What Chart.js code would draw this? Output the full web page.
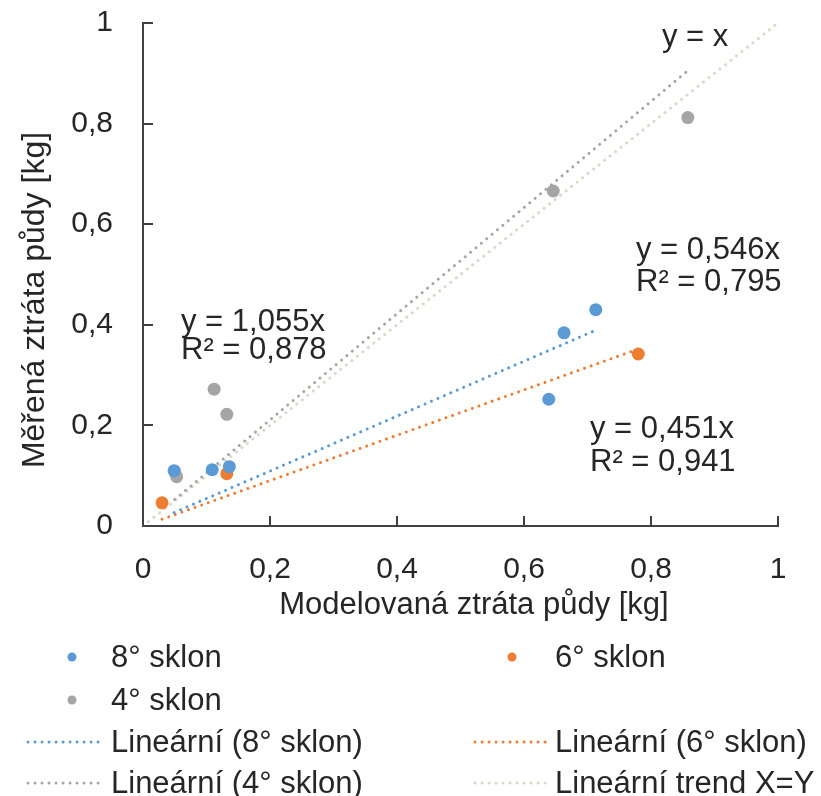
<!DOCTYPE html>
<html>
<head>
<meta charset="utf-8">
<script src="https://cdn.jsdelivr.net/npm/chart.js@4/dist/chart.umd.min.js"></script>
<style>
  html, body { margin: 0; padding: 0; background: #fff; }
  #wrap { width: 821px; height: 796px; }
</style>
</head>
<body>
<div id="wrap"><canvas id="scatter"></canvas></div>
<script>
// measured values [modelled, measured] in kg
var slope8 = [[0.049, 0.110], [0.109, 0.112], [0.136, 0.118], [0.639, 0.252], [0.663, 0.384], [0.713, 0.430]];
var slope6 = [[0.030, 0.046], [0.132, 0.104], [0.780, 0.342]];
var slope4 = [[0.050, 0.108], [0.053, 0.098], [0.112, 0.272], [0.132, 0.222], [0.646, 0.666], [0.858, 0.812]];

// trendline slopes (intercept fixed at 0) and R²
var trendSlopes = [0.546, 0.451, 1.055];
var trendR2 = ['0,795', '0,941', '0,878'];
var seriesNames = ['8° sklon', '6° sklon', '4° sklon'];
var trendNames = ['Lineární (8° sklon)', 'Lineární (6° sklon)', 'Lineární (4° sklon)', 'Lineární trend X=Y'];

var xTickLabels = ['0', '0,2', '0,4', '0,6', '0,8', '1'];
var yTickLabels = ['0', '0,2', '0,4', '0,6', '0,8', '1'];
var xTitle = 'Modelovaná ztráta půdy [kg]';
var yTitle = 'Měřená ztráta půdy [kg]';

var blue = '#5B9BD5';
var orange = '#ED7D31';
var grey = '#A5A5A5';
var beige = '#DAD8C6';
var font = '"Liberation Sans", Arial, sans-serif';
var textColor = '#262626';

var toPoints = (arr) => arr.map(p => ({x: p[0], y: p[1]}));

// line y = k*x drawn over the x range of the series
var trendLine = (arr, k) => {
  var xs = arr.map(p => p[0]);
  var lo = Math.min.apply(null, xs), hi = Math.max.apply(null, xs);
  return [{x: lo, y: k * lo}, {x: hi, y: k * hi}];
};

var pointSet = (label, arr, color) => ({
  type: 'scatter',
  label: label,
  data: toPoints(arr),
  backgroundColor: color,
  borderColor: color,
  borderWidth: 0,
  pointRadius: 6.5,
  order: 1
});

var lineSet = (label, pts, color) => ({
  type: 'line',
  label: label,
  data: pts,
  borderColor: color,
  borderWidth: 3,
  borderDash: [0.01, 7],
  borderCapStyle: 'round',
  pointRadius: 0,
  fill: false,
  order: 2
});

const datasets = [
  pointSet(seriesNames[0], slope8, blue),
  pointSet(seriesNames[1], slope6, orange),
  pointSet(seriesNames[2], slope4, grey),
  lineSet(trendNames[0], trendLine(slope8, trendSlopes[0]), blue),
  lineSet(trendNames[1], trendLine(slope6, trendSlopes[1]), orange),
  lineSet(trendNames[2], trendLine(slope4, trendSlopes[2]), grey),
  lineSet(trendNames[3], [{x: 0, y: 0}, {x: 1, y: 1}], beige)
];

// short tick marks pointing into the plot
const innerTicks = {
  id: 'innerTicks',
  afterDatasetsDraw(chart) {
    const ctx = chart.ctx, a = chart.chartArea;
    const xs = chart.scales.x, ys = chart.scales.y;
    ctx.save();
    ctx.strokeStyle = '#404040';
    ctx.lineWidth = 2;
    ctx.beginPath();
    xs.ticks.forEach(t => {
      const px = Math.round(xs.getPixelForValue(t.value));
      ctx.moveTo(px, a.bottom);
      ctx.lineTo(px, a.bottom - 10);
    });
    ys.ticks.forEach(t => {
      const py = Math.round(ys.getPixelForValue(t.value));
      ctx.moveTo(a.left, py);
      ctx.lineTo(a.left + 10, py);
    });
    ctx.stroke();
    ctx.restore();
  }
};

// axis titles, trendline equations and the two-column legend
const extras = {
  id: 'extras',
  afterDraw(chart) {
    const ctx = chart.ctx;
    ctx.save();
    ctx.fillStyle = textColor;
    ctx.font = '31px ' + font;
    ctx.textBaseline = 'alphabetic';

    ctx.textAlign = 'center';
    ctx.fillText(xTitle, 474, 614);
    ctx.save();
    ctx.translate(44, 300);
    ctx.rotate(-Math.PI / 2);
    ctx.font = '32px ' + font;
    ctx.fillText(yTitle, 0, 0);
    ctx.restore();

    const fmt = (k) => 'y = ' + k.toFixed(3).replace('.', ',') + 'x';
    ctx.textAlign = 'left';
    ctx.fillText('y = x', 662, 46);
    ctx.fillText(fmt(trendSlopes[0]), 636, 259);
    ctx.fillText('R² = ' + trendR2[0], 636, 291);
    ctx.fillText(fmt(trendSlopes[2]), 181, 331);
    ctx.fillText('R² = ' + trendR2[2], 181, 359);
    ctx.fillText(fmt(trendSlopes[1]), 590, 438);
    ctx.fillText('R² = ' + trendR2[1], 590, 471);

    // legend
    const ds = chart.data.datasets;
    const slots = [
      {i: 0, mx: 72, tx: 111, y: 657},
      {i: 1, mx: 512, tx: 555, y: 657},
      {i: 2, mx: 72, tx: 111, y: 700},
      {i: 3, lx: [28, 102], tx: 111, y: 742},
      {i: 4, lx: [475, 546], tx: 555, y: 742},
      {i: 5, lx: [28, 102], tx: 111, y: 783},
      {i: 6, lx: [475, 546], tx: 555, y: 783}
    ];
    ctx.textBaseline = 'middle';
    slots.forEach(s => {
      const d = ds[s.i];
      if (s.lx) {
        ctx.save();
        ctx.strokeStyle = d.borderColor;
        ctx.lineWidth = 3;
        ctx.lineCap = 'round';
        ctx.setLineDash([0.01, 7]);
        ctx.beginPath();
        ctx.moveTo(s.lx[0], s.y);
        ctx.lineTo(s.lx[1], s.y);
        ctx.stroke();
        ctx.restore();
      } else {
        ctx.beginPath();
        ctx.fillStyle = d.backgroundColor;
        ctx.arc(s.mx, s.y, 4.5, 0, Math.PI * 2);
        ctx.fill();
      }
      ctx.fillStyle = textColor;
      ctx.fillText(d.label, s.tx, s.y + 1);
    });
    ctx.restore();
  }
};

const config = {
  type: 'scatter',
  data: {datasets: datasets},
  plugins: [innerTicks, extras],
  options: {
    responsive: true,
    maintainAspectRatio: false,
    animation: false,
    layout: {padding: {left: 0, top: 23, right: 43, bottom: 180}},
    plugins: {
      legend: {display: false},
      tooltip: {enabled: false}
    },
    scales: {
      x: {
        type: 'linear',
        min: 0,
        max: 1,
        afterFit: (scale) => {
          scale.height = 90;
          scale.paddingLeft = 0;
          scale.paddingRight = 0;
        },
        border: {display: true, color: '#404040', width: 2},
        grid: {display: false, drawTicks: false},
        ticks: {
          stepSize: 0.2,
          padding: 26,
          color: textColor,
          font: {family: font, size: 30},
          callback: (value, index) => xTickLabels[index]
        }
      },
      y: {
        type: 'linear',
        min: 0,
        max: 1,
        afterFit: (scale) => {
          scale.width = 143;
          scale.paddingTop = 0;
          scale.paddingBottom = 0;
        },
        border: {display: true, color: '#404040', width: 2},
        grid: {display: false, drawTicks: false},
        ticks: {
          stepSize: 0.2,
          padding: 30,
          color: textColor,
          font: {family: font, size: 30},
          callback: (value, index) => yTickLabels[index]
        }
      }
    }
  }
};

var chart = new Chart(document.getElementById('scatter').getContext('2d'), config);
</script>
</body>
</html>
